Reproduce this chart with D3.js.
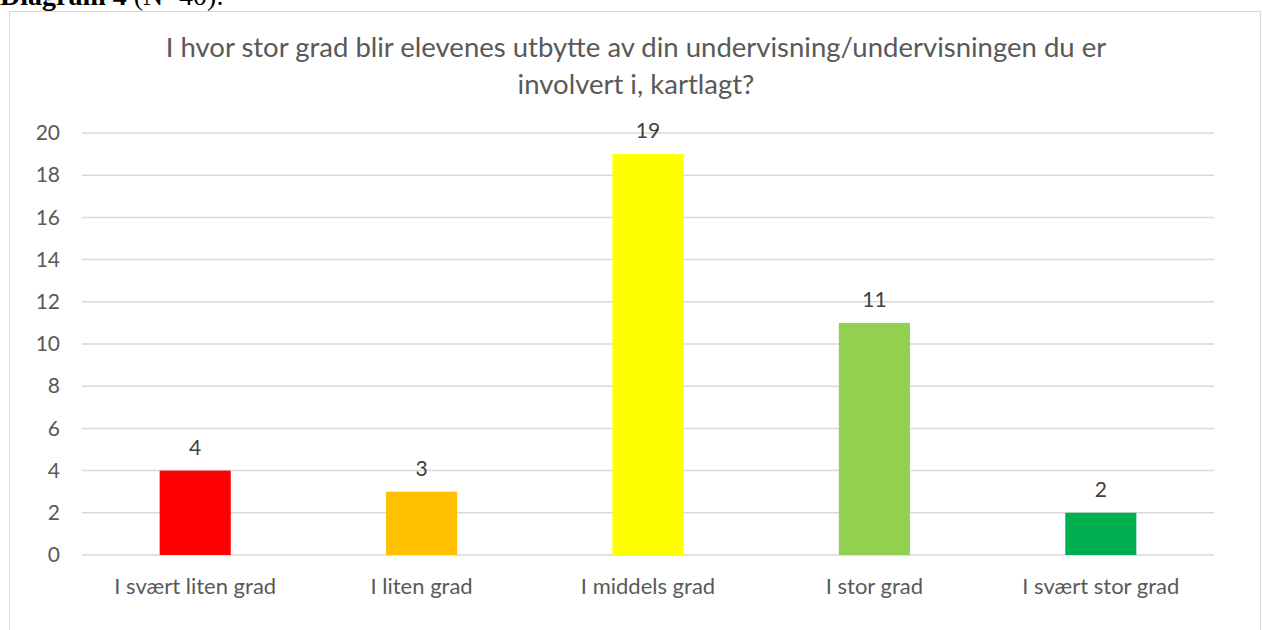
<!DOCTYPE html>
<html>
<head>
<meta charset="utf-8">
<script src="https://cdn.jsdelivr.net/npm/d3@7"></script>
<style>
  body { margin: 0; background: #fff; }
  svg { display: block; }
</style>
</head>
<body>
<script>
// data
var categories = ['I svært liten grad', 'I liten grad', 'I middels grad', 'I stor grad', 'I svært stor grad'];
var counts = [4, 3, 19, 11, 2];
var barColors = ['#ff0000', '#ffc000', '#ffff00', '#92d050', '#00b050'];
var yTicks = [0, 2, 4, 6, 8, 10, 12, 14, 16, 18, 20];
var titleLines = ['I hvor stor grad blir elevenes utbytte av din undervisning/undervisningen du er', 'involvert i, kartlagt?'];

var w = 1262;
var h = 630;
// plot area edges
var plotL = 82, plotR = 1214, plotT = 133, plotB = 555;

var svg = d3.select('body')
  .append('svg')
  .attr('width', w)
  .attr('height', h);

// caption above the chart box (cut off in the original)
var cap = svg.append('text')
  .attr('x', 0)
  .attr('y', 5)
  .style('font-family', '"Liberation Serif", serif')
  .style('font-size', '28px')
  .attr('fill', '#000');
cap.append('tspan').style('font-weight', 'bold').text('Diagram 4');
cap.append('tspan').text(' (N=40).');

// chart frame
svg.append('rect')
  .attr('x', 9.5)
  .attr('y', 11.5)
  .attr('width', 1251)
  .attr('height', 640)
  .attr('fill', '#fff')
  .attr('stroke', '#d9d9d9')
  .attr('stroke-width', 1);

// scales
var xScale = d3.scaleBand()
  .domain(categories)
  .range([plotL, plotR])
  .paddingInner(0.686)
  .paddingOuter(0.343);

var yScale = d3.scaleLinear()
  .domain([0, 20])
  .range([plotB, plotT]);

// gridlines
svg.append('g')
  .selectAll('line')
  .data(yTicks)
  .enter()
  .append('line')
  .attr('x1', plotL)
  .attr('x2', plotR)
  .attr('y1', (d) => yScale(d))
  .attr('y2', (d) => yScale(d))
  .attr('stroke', '#d9d9d9')
  .attr('stroke-width', 1.5);

// y axis
var yAxis = d3.axisLeft()
  .scale(yScale)
  .tickValues(yTicks)
  .tickSize(0)
  .tickPadding(22);

var gy = svg.append('g')
  .attr('transform', `translate(${plotL},0)`)
  .call(yAxis);
gy.select('.domain').remove();
gy.selectAll('text')
  .style('font-family', 'Lato, sans-serif')
  .style('font-size', '21px')
  .attr('fill', '#595959');

// bars
svg.selectAll('rect.bar')
  .data(counts)
  .enter()
  .append('rect')
  .attr('class', 'bar')
  .attr('x', (d, i) => xScale(categories[i]))
  .attr('y', (d) => yScale(d))
  .attr('width', xScale.bandwidth())
  .attr('height', (d) => yScale(0) - yScale(d))
  .attr('fill', (d, i) => barColors[i]);

// value labels
svg.selectAll('text.val')
  .data(counts)
  .enter()
  .append('text')
  .attr('class', 'val')
  .attr('x', (d, i) => xScale(categories[i]) + xScale.bandwidth() / 2)
  .attr('y', (d) => yScale(d) - 16)
  .attr('text-anchor', 'middle')
  .style('font-family', 'Lato, sans-serif')
  .style('font-size', '21px')
  .attr('fill', '#404040')
  .text((d) => d);

// x axis
var xAxis = d3.axisBottom()
  .scale(xScale)
  .tickSize(0)
  .tickPadding(23);

var gx = svg.append('g')
  .attr('transform', `translate(0,${plotB})`)
  .call(xAxis);
gx.select('.domain').remove();
gx.selectAll('text')
  .style('font-family', 'Lato, sans-serif')
  .style('font-size', '22px')
  .attr('fill', '#595959');

// title
svg.append('g')
  .selectAll('text')
  .data(titleLines)
  .enter()
  .append('text')
  .attr('x', 636)
  .attr('y', (d, i) => 57 + i * 37)
  .attr('text-anchor', 'middle')
  .style('font-family', 'Lato, sans-serif')
  .style('font-size', '27.5px')
  .attr('fill', '#595959')
  .text((d) => d);
</script>
</body>
</html>
